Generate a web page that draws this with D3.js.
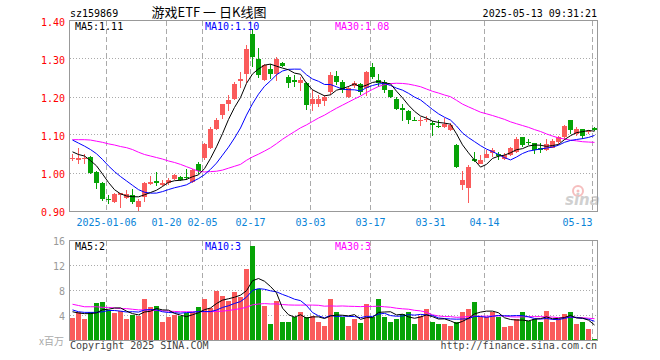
<!DOCTYPE html>
<html>
<head>
<meta charset="utf-8">
<script src="https://cdn.jsdelivr.net/npm/d3@7/dist/d3.min.js"></script>
<style>
body { margin: 0; background: #fff; }
text { font-family: "DejaVu Sans Mono", monospace; font-size: 10px; }
</style>
</head>
<body>
<div id="chart"></div>
<script>
// trading days shown on the chart
var dates = [
	"2024-12-26", "2024-12-27", "2024-12-30", "2024-12-31", "2025-01-02", "2025-01-03",
	"2025-01-06", "2025-01-07", "2025-01-08", "2025-01-09", "2025-01-10",
	"2025-01-13", "2025-01-14", "2025-01-15", "2025-01-16", "2025-01-17",
	"2025-01-20", "2025-01-21", "2025-01-22", "2025-01-23", "2025-01-24", "2025-01-27",
	"2025-02-05", "2025-02-06", "2025-02-07",
	"2025-02-10", "2025-02-11", "2025-02-12", "2025-02-13", "2025-02-14",
	"2025-02-17", "2025-02-18", "2025-02-19", "2025-02-20", "2025-02-21",
	"2025-02-24", "2025-02-25", "2025-02-26", "2025-02-27", "2025-02-28",
	"2025-03-03", "2025-03-04", "2025-03-05", "2025-03-06", "2025-03-07",
	"2025-03-10", "2025-03-11", "2025-03-12", "2025-03-13", "2025-03-14",
	"2025-03-17", "2025-03-18", "2025-03-19", "2025-03-20", "2025-03-21",
	"2025-03-24", "2025-03-25", "2025-03-26", "2025-03-27", "2025-03-28",
	"2025-03-31", "2025-04-01", "2025-04-02", "2025-04-03",
	"2025-04-07", "2025-04-08", "2025-04-09", "2025-04-10", "2025-04-11",
	"2025-04-14", "2025-04-15", "2025-04-16", "2025-04-17", "2025-04-18",
	"2025-04-21", "2025-04-22", "2025-04-23", "2025-04-24", "2025-04-25",
	"2025-04-28", "2025-04-29", "2025-04-30",
	"2025-05-06", "2025-05-07", "2025-05-08", "2025-05-09", "2025-05-12", "2025-05-13"
];

var opens = [
	1.038, 1.036, 1.037, 1.044, 1.004, 0.975, 0.933, 0.925, 0.944, 0.936,
	0.943, 0.912, 0.937, 0.972, 0.979, 0.971, 0.976, 0.985, 0.991, 0.991,
	0.978, 1.024, 1.040, 1.066, 1.118, 1.154, 1.182, 1.195, 1.244, 1.263,
	1.366, 1.300, 1.246, 1.274, 1.263, 1.291, 1.254, 1.247, 1.239, 1.237,
	1.184, 1.184, 1.191, 1.215, 1.256, 1.241, 1.202, 1.231, 1.235, 1.224,
	1.281, 1.246, 1.241, 1.219, 1.195, 1.173, 1.165, 1.141, 1.138, 1.140,
	1.133, 1.125, 1.123, 1.114, 1.075, 0.969, 0.961, 1.037, 1.026, 1.042,
	1.053, 1.051, 1.039, 1.048, 1.057, 1.095, 1.084, 1.079, 1.066, 1.063,
	1.068, 1.083, 1.096, 1.140, 1.105, 1.116, 1.109, 1.121
];
var highs = [
	1.050, 1.066, 1.052, 1.046, 1.006, 0.978, 0.943, 0.950, 0.950, 0.957,
	0.960, 0.934, 0.978, 0.993, 1.003, 0.982, 0.989, 0.998, 0.994, 1.013,
	1.013, 1.031, 1.079, 1.122, 1.145, 1.183, 1.206, 1.241, 1.267, 1.338,
	1.380, 1.329, 1.289, 1.289, 1.307, 1.294, 1.259, 1.259, 1.255, 1.242,
	1.219, 1.206, 1.206, 1.268, 1.270, 1.246, 1.230, 1.244, 1.237, 1.270,
	1.291, 1.263, 1.246, 1.221, 1.202, 1.184, 1.167, 1.149, 1.149, 1.152,
	1.138, 1.140, 1.147, 1.132, 1.077, 1.006, 1.022, 1.057, 1.049, 1.061,
	1.066, 1.057, 1.054, 1.069, 1.095, 1.097, 1.090, 1.081, 1.079, 1.092,
	1.092, 1.098, 1.128, 1.142, 1.123, 1.118, 1.114, 1.123
];
var lows = [
	1.032, 1.026, 1.024, 1.000, 0.958, 0.928, 0.920, 0.923, 0.910, 0.934,
	0.921, 0.902, 0.926, 0.970, 0.968, 0.966, 0.971, 0.982, 0.980, 0.982,
	0.975, 1.000, 1.035, 1.064, 1.114, 1.143, 1.165, 1.193, 1.224, 1.237,
	1.281, 1.250, 1.244, 1.249, 1.244, 1.279, 1.226, 1.228, 1.217, 1.168,
	1.165, 1.175, 1.177, 1.206, 1.232, 1.212, 1.200, 1.224, 1.206, 1.204,
	1.249, 1.228, 1.212, 1.198, 1.167, 1.139, 1.129, 1.137, 1.125, 1.135,
	1.098, 1.121, 1.121, 1.112, 1.014, 0.956, 0.923, 1.031, 1.024, 1.040,
	1.044, 1.035, 1.035, 1.046, 1.054, 1.069, 1.074, 1.051, 1.055, 1.060,
	1.066, 1.078, 1.092, 1.105, 1.098, 1.092, 1.105, 1.112
];
var closes = [
	1.041, 1.041, 1.042, 1.002, 0.975, 0.934, 0.929, 0.947, 0.948, 0.946,
	0.925, 0.927, 0.974, 0.978, 0.976, 0.974, 0.982, 0.995, 0.984, 0.987,
	1.010, 1.006, 1.077, 1.118, 1.140, 1.183, 1.193, 1.235, 1.248, 1.327,
	1.307, 1.259, 1.285, 1.261, 1.300, 1.282, 1.237, 1.241, 1.246, 1.180,
	1.197, 1.197, 1.202, 1.259, 1.241, 1.219, 1.224, 1.237, 1.215, 1.268,
	1.254, 1.237, 1.219, 1.202, 1.171, 1.167, 1.140, 1.138, 1.141, 1.143,
	1.127, 1.123, 1.129, 1.127, 1.016, 0.982, 1.018, 1.033, 1.035, 1.052,
	1.061, 1.046, 1.048, 1.066, 1.092, 1.075, 1.081, 1.061, 1.063, 1.077,
	1.086, 1.095, 1.125, 1.114, 1.118, 1.098, 1.112, 1.114
];
// volume, millions
var volumes = [
	3.6, 4.5, 3.4, 4.6, 6.0, 6.1, 4.9, 4.4, 4.7, 3.4,
	4.1, 3.9, 6.7, 5.3, 5.6, 3.0, 3.7, 4.1, 3.9, 4.4,
	4.5, 5.3, 6.6, 5.2, 8.0, 7.2, 6.4, 7.8, 6.9, 11.5,
	15.2, 8.2, 5.6, 2.7, 6.4, 3.0, 2.9, 3.7, 4.6, 3.7,
	4.0, 2.9, 2.4, 6.6, 4.5, 3.8, 2.4, 3.4, 2.8, 5.9,
	3.8, 6.6, 3.7, 3.0, 3.4, 4.3, 4.5, 2.6, 4.0, 5.1,
	2.9, 2.6, 2.7, 2.4, 3.0, 4.6, 5.1, 6.2, 3.8, 3.8,
	4.6, 3.8, 2.2, 2.4, 3.4, 4.5, 3.2, 3.5, 2.9, 4.8,
	3.0, 3.5, 4.2, 4.6, 2.7, 2.9, 1.9, 0.3
];

// moving average values before a full window exists
var ma5Head = [1.057, 1.050, 1.046, 1.034];
var ma10Head = [1.088, 1.080, 1.072, 1.063, 1.052, 1.037, 1.020, 1.005, 0.992];
var ma30Head = [
	1.089, 1.089, 1.089, 1.088, 1.085, 1.082, 1.078, 1.075, 1.071, 1.068,
	1.063, 1.056, 1.050, 1.046, 1.042, 1.038, 1.033, 1.029, 1.024, 1.018,
	1.012, 1.006, 1.004, 1.005, 1.006, 1.009, 1.014, 1.019, 1.024
];
var vma5Head = [4.6, 4.4, 4.3, 4.3];
var vma10Head = [4.9, 4.6, 4.5, 4.5, 4.5, 4.6, 4.8, 4.8, 4.7];
var vma30Head = [
	5.8, 5.6, 5.4, 5.4, 5.4, 5.3, 5.3, 5.2, 5.1, 5.1,
	5.0, 4.9, 4.9, 4.9, 4.8, 4.75, 4.7, 4.65, 4.6, 4.6,
	4.6, 4.6, 4.6, 4.6, 4.65, 4.7, 4.8, 4.95, 5.1
];

var tickDates = ["2025-01-06", "2025-01-20", "2025-02-05", "2025-02-17", "2025-03-03",
	"2025-03-17", "2025-03-31", "2025-04-14", "2025-05-13"];
var priceTicks = [0.90, 1.00, 1.10, 1.20, 1.30, 1.40];
var volTicks = [4, 8, 12, 16];

var width = 660, height = 360;
var left = 70, right = 598;
var red = "#fa5b5b", green = "#06a306";

function movingAvg(arr, n, head) {
	return arr.map(function(d, i) {
		if (i < n - 1) return head[i];
		return d3.mean(arr.slice(i - n + 1, i + 1));
	});
}
var ma5 = movingAvg(closes, 5, ma5Head),
	ma10 = movingAvg(closes, 10, ma10Head),
	ma30 = movingAvg(closes, 30, ma30Head);
var vma5 = movingAvg(volumes, 5, vma5Head),
	vma10 = movingAvg(volumes, 10, vma10Head),
	vma30 = movingAvg(volumes, 30, vma30Head);

var svg = d3.select("#chart").append("svg")
	.attr("width", width)
	.attr("height", height);

var x = d3.scaleLinear().domain([0, dates.length]).range([left, right]);
var step = x(1) - x(0);
var y = d3.scaleLinear().domain([0.9, 1.4]).range([211.5, 21.5]);
var yv = d3.scaleLinear().domain([0, 16]).range([340.5, 240.5]);

// ---- grid
function drawGrid(g, scale, ticks, top, bottom) {
	g.selectAll(".hg").data(ticks).enter().append("line")
		.attr("x1", left).attr("x2", right - 1)
		.attr("y1", d => Math.round(scale(d)) - 0.5)
		.attr("y2", d => Math.round(scale(d)) - 0.5)
		.style("stroke", "#aaa")
		.style("stroke-dasharray", "1,2");
	g.selectAll(".vg").data(tickDates).enter().append("line")
		.attr("x1", d => x(dates.indexOf(d)) + 0.5)
		.attr("x2", d => x(dates.indexOf(d)) + 0.5)
		.attr("y1", top).attr("y2", bottom)
		.style("stroke", "#aaa")
		.style("stroke-dasharray", "5,3");
}
var gridG = svg.append("g");
drawGrid(gridG, y, priceTicks.slice(1, -1), 21, 211);
drawGrid(gridG, yv, volTicks.slice(0, -1), 241, 340);

// ---- candles
var candleG = svg.append("g");
dates.forEach(function(d, i) {
	var up = closes[i] >= opens[i];
	var col = up ? red : green;
	var cx = x(i) + 2.5;
	candleG.append("line")
		.attr("x1", cx).attr("x2", cx)
		.attr("y1", Math.round(y(highs[i]))).attr("y2", Math.round(y(lows[i])))
		.style("stroke", col);
	var yTop = Math.round(y(Math.max(opens[i], closes[i])));
	var yBot = Math.round(y(Math.min(opens[i], closes[i])));
	candleG.append("rect")
		.attr("x", x(i)).attr("width", step - 1)
		.attr("y", yTop).attr("height", Math.max(1, yBot - yTop))
		.style("fill", col);
	// volume bar
	var vt = Math.round(yv(volumes[i]));
	candleG.append("rect")
		.attr("x", x(i)).attr("width", step - 1)
		.attr("y", vt).attr("height", Math.max(1, 340 - vt))
		.style("fill", col);
});

// ---- moving average lines
function maLine(values, scale, color) {
	var line = d3.line()
		.x((d, i) => x(i) + 2.5)
		.y(d => scale(d));
	svg.append("path")
		.attr("d", line(values))
		.style("fill", "none")
		.style("stroke", color)
		.style("stroke-width", 1);
}
maLine(ma30, y, "#ff00ff");
maLine(ma10, y, "#0000ff");
maLine(ma5, y, "#000");
maLine(vma30, yv, "#ff00ff");
maLine(vma10, yv, "#0000ff");
maLine(vma5, yv, "#000");

// ---- watermark
var wm = svg.append("g").style("opacity", 0.55);
wm.append("circle").attr("cx", 578).attr("cy", 191).attr("r", 5)
	.style("fill", "none").style("stroke", "#f08a8a").style("stroke-width", 2);
wm.append("circle").attr("cx", 578).attr("cy", 191).attr("r", 1.5).style("fill", "#f08a8a");
wm.append("text").attr("x", 565).attr("y", 205)
	.style("font-family", "DejaVu Sans").style("font-size", "15px")
	.style("font-weight", "bold").style("font-style", "italic")
	.style("fill", "#aaa").text("sina");

// ---- frames
svg.append("rect").attr("x", 69.5).attr("y", 20.5).attr("width", 528).attr("height", 191)
	.style("fill", "none").style("stroke", "#999");
svg.append("rect").attr("x", 69.5).attr("y", 240.5).attr("width", 528).attr("height", 100)
	.style("fill", "none").style("stroke", "#999");

// ---- axis labels
svg.selectAll(".py").data(priceTicks).enter().append("text")
	.attr("x", 65).attr("y", d => y(d) + 4)
	.attr("text-anchor", "end")
	.style("fill", "#f00")
	.text(d => d3.format(".2f")(d));
svg.selectAll(".vy").data(volTicks).enter().append("text")
	.attr("x", 65).attr("y", d => yv(d) + 4)
	.attr("text-anchor", "end")
	.style("fill", "#999")
	.text(d => d);
svg.selectAll(".xl").data(tickDates).enter().append("text")
	.attr("x", d => x(dates.indexOf(d)) + 0.5)
	.attr("y", 226)
	.attr("text-anchor", (d, i) => i == tickDates.length - 1 ? "end" : "middle")
	.style("fill", "#0a84d8")
	.text((d, i) => i == 0 ? d : d.slice(5));

// ---- titles and legends
svg.append("text").attr("x", 70).attr("y", 16.5).style("fill", "#000").text("sz159869");
svg.append("text").attr("x", 209).attr("y", 17).attr("text-anchor", "middle")
	.style("font-family", "'Noto Sans CJK SC'").style("font-size", "13px")
	.style("fill", "#000").text("游戏ETF 一 日K线图");
svg.append("text").attr("x", 597).attr("y", 16.5).attr("text-anchor", "end")
	.style("fill", "#000").text("2025-05-13 09:31:21");

var last = dates.length - 1;
var f2 = d3.format(".2f");
var legends = [
	["MA5:" + f2(ma5[last]), "MA10:" + f2(ma10[last]), "MA30:" + f2(ma30[last])],
	["MA5:" + Math.floor(vma5[last]), "MA10:" + Math.floor(vma10[last]), "MA30:" + Math.floor(vma30[last])]
];
var legendColors = ["#000", "#0000ff", "#ff00ff"];
var legendX = [75, 205, 335];
[30, 249.5].forEach(function(ly, k) {
	legends[k].forEach(function(t, j) {
		svg.append("text").attr("x", legendX[j]).attr("y", ly)
			.style("fill", legendColors[j]).text(t);
	});
});

svg.append("text").attr("x", 64).attr("y", 345).attr("text-anchor", "end")
	.style("font-family", "'Noto Sans CJK SC'").style("font-size", "10px")
	.style("fill", "#aaa").text("x百万");
svg.append("text").attr("x", 70).attr("y", 349).style("fill", "#444").text("Copyright 2025 SINA.COM");
svg.append("text").attr("x", 597).attr("y", 349).attr("text-anchor", "end")
	.style("fill", "#444").text("http://finance.sina.com.cn");
</script>
</body>
</html>
